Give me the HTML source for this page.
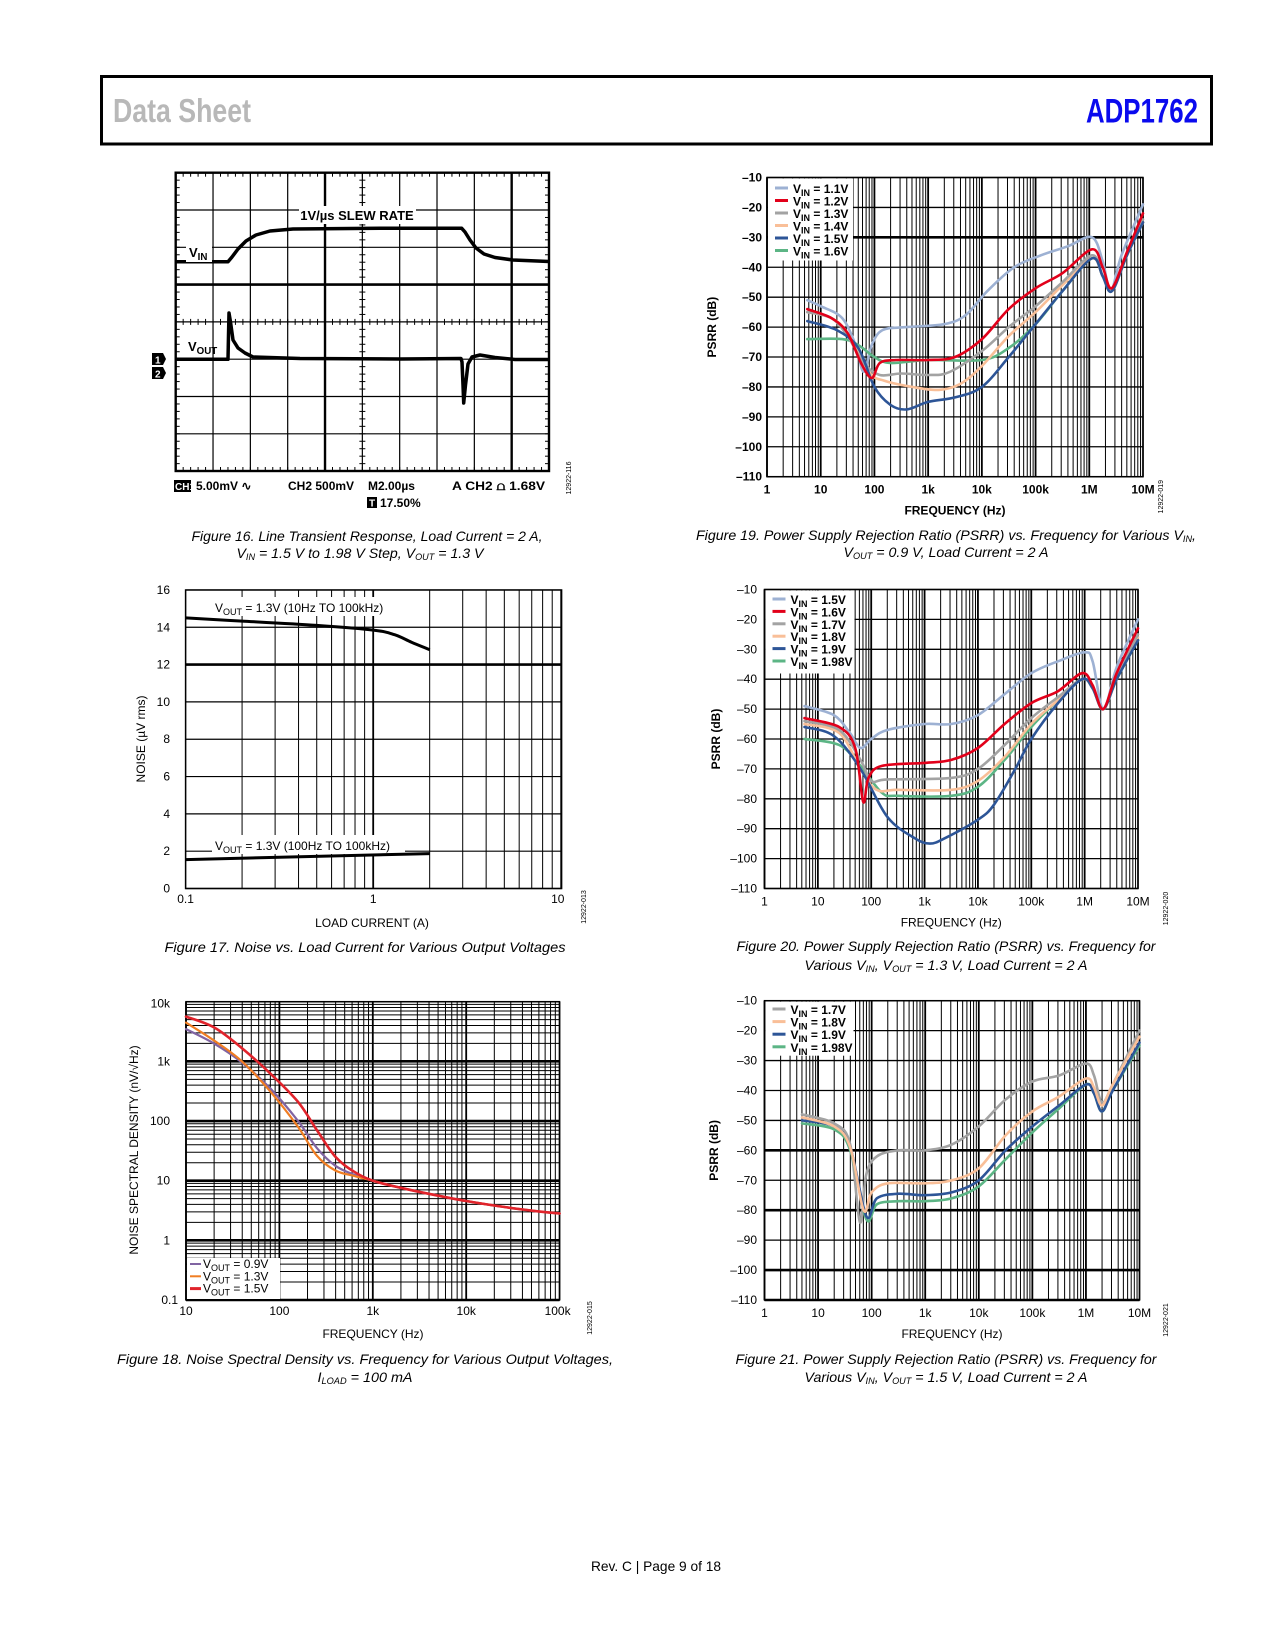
<!DOCTYPE html>
<html><head><meta charset="utf-8"><style>
html,body{margin:0;padding:0;background:#fff;}
svg{display:block;}
text{font-family:"Liberation Sans",sans-serif;}
</style></head><body>
<svg id="s" xmlns="http://www.w3.org/2000/svg" width="1275" height="1650" viewBox="0 0 1275 1650">
<rect x="0" y="0" width="1275" height="1650" fill="#fff"/>
<rect x="101.5" y="76.5" width="1110" height="67.5" fill="none" stroke="#000" stroke-width="3"/>
<text x="113" y="122" font-size="33" font-weight="bold" fill="#b8b8b8" textLength="138" lengthAdjust="spacingAndGlyphs">Data Sheet</text>
<text x="1086" y="122.5" font-size="34" font-weight="bold" fill="#0a0aee" textLength="112" lengthAdjust="spacingAndGlyphs">ADP1762</text>

<g font-style="italic" font-size="14" text-anchor="middle" fill="#000">
<text x="367" y="541" textLength="351" lengthAdjust="spacingAndGlyphs">Figure 16. Line Transient Response, Load Current = 2 A,</text>
<text x="360" y="558" textLength="247" lengthAdjust="spacingAndGlyphs">V<tspan font-size="9" dy="2">IN</tspan><tspan dy="-2"> = 1.5 V to 1.98 V Step, V</tspan><tspan font-size="9" dy="2">OUT</tspan><tspan dy="-2"> = 1.3 V</tspan></text>
<text x="946" y="540" textLength="500" lengthAdjust="spacingAndGlyphs">Figure 19. Power Supply Rejection Ratio (PSRR) vs. Frequency for Various V<tspan font-size="9" dy="2">IN</tspan><tspan dy="-2">,</tspan></text>
<text x="946" y="557" textLength="205" lengthAdjust="spacingAndGlyphs">V<tspan font-size="9" dy="2">OUT</tspan><tspan dy="-2"> = 0.9 V, Load Current = 2 A</tspan></text>
<text x="365" y="952" textLength="401" lengthAdjust="spacingAndGlyphs">Figure 17. Noise vs. Load Current for Various Output Voltages</text>
<text x="946" y="951" textLength="419" lengthAdjust="spacingAndGlyphs">Figure 20. Power Supply Rejection Ratio (PSRR) vs. Frequency for</text>
<text x="946" y="970" textLength="283" lengthAdjust="spacingAndGlyphs">Various V<tspan font-size="9" dy="2">IN</tspan><tspan dy="-2">, V</tspan><tspan font-size="9" dy="2">OUT</tspan><tspan dy="-2"> = 1.3 V, Load Current = 2 A</tspan></text>
<text x="365" y="1364" textLength="496" lengthAdjust="spacingAndGlyphs">Figure 18. Noise Spectral Density vs. Frequency for Various Output Voltages,</text>
<text x="365" y="1382" textLength="95" lengthAdjust="spacingAndGlyphs">I<tspan font-size="9" dy="2">LOAD</tspan><tspan dy="-2"> = 100 mA</tspan></text>
<text x="946" y="1364" textLength="421" lengthAdjust="spacingAndGlyphs">Figure 21. Power Supply Rejection Ratio (PSRR) vs. Frequency for</text>
<text x="946" y="1382" textLength="283" lengthAdjust="spacingAndGlyphs">Various V<tspan font-size="9" dy="2">IN</tspan><tspan dy="-2">, V</tspan><tspan font-size="9" dy="2">OUT</tspan><tspan dy="-2"> = 1.5 V, Load Current = 2 A</tspan></text>
</g>
<text x="656" y="1571" font-size="14" text-anchor="middle" textLength="130" lengthAdjust="spacingAndGlyphs">Rev. C | Page 9 of 18</text>
</svg>
<script>
const NS='http://www.w3.org/2000/svg';const S=document.getElementById('s');
function E(t,a,txt,p){const e=document.createElementNS(NS,t);for(const k in a)e.setAttribute(k,a[k]);if(txt!=null)e.textContent=txt;(p||S).appendChild(e);return e;}
function L(x1,y1,x2,y2,w,c){E('line',{x1,y1,x2,y2,stroke:c||'#000','stroke-width':w||1});}
function T(x,y,s,o){o=o||{};const a={x,y,'font-size':o.fs||12,'text-anchor':o.anchor||'start'};if(o.bold)a['font-weight']='bold';if(o.tr)a.transform=o.tr;if(o.fill)a.fill=o.fill;if(o.tl){a.textLength=o.tl;a.lengthAdjust='spacingAndGlyphs';}return E('text',a,s);}
function TS(x,y,main,sub,rest,o){o=o||{};const a={x,y,'font-size':o.fs||12,'text-anchor':o.anchor||'start'};if(o.bold)a['font-weight']='bold';if(o.tr)a.transform=o.tr;const t=E('text',a);
 E('tspan',{},main,t);E('tspan',{'font-size':(o.fs||12)*0.75,dy:3},sub,t);E('tspan',{dy:-3},rest,t);return t;}
function smooth(p){let d='M'+p[0][0].toFixed(1)+','+p[0][1].toFixed(1);
 for(let i=0;i<p.length-1;i++){const p0=p[i-1]||p[i],p1=p[i],p2=p[i+1],p3=p[i+2]||p2;
 const c1=[p1[0]+(p2[0]-p0[0])/6,p1[1]+(p2[1]-p0[1])/6],c2=[p2[0]-(p3[0]-p1[0])/6,p2[1]-(p3[1]-p1[1])/6];
 d+=' C'+c1.map(v=>v.toFixed(1))+' '+c2.map(v=>v.toFixed(1))+' '+p2.map(v=>v.toFixed(1));}return d;}
function curve(pts,c,w){E('path',{d:smooth(pts),fill:'none',stroke:c,'stroke-width':w||2.5,'stroke-linejoin':'round','stroke-linecap':'round'});}
const lg=Math.log10;

/* ---------- PSRR plots ---------- */
function psrr(o){
 const {x0,x1,y0,y1}=o;const X=lf=>x0+lf*(x1-x0)/7,Y=db=>y0+(-10-db)*(y1-y0)/100;
 for(let db=-10;db>=-110;db-=10)L(x0,Y(db),x1,Y(db),o.thick.includes(db)?2.6:1.3);
 for(let d=0;d<7;d++)for(let m=1;m<=9;m++){const x=X(d+lg(m));L(x,y0,x,y1,m==1?1.8:1);}
 L(X(7),y0,X(7),y1,1.5);
 E('rect',{x:x0,y:y0,width:x1-x0,height:y1-y0,fill:'none',stroke:'#000','stroke-width':1.5});
 E('rect',{x:x0+1,y:y0+1,width:o.lw,height:o.lh,fill:'#fff'});
 o.leg.forEach((l,i)=>{const yy=o.ly0+i*o.ld;L(x0+8,yy,x0+21,yy,3,l[1]);TS(x0+26,yy+5,'V','IN',' = '+l[0],{bold:true,fs:12});});
 o.curves.forEach(c=>curve(c[1].map(p=>[X(p[0]),Y(p[1])]),c[0],2.6));
 const fl=['1','10','100','1k','10k','100k','1M','10M'];
 fl.forEach((s,i)=>T(X(i),y1+17,s,{anchor:'middle',bold:o.bold}));
 for(let db=-10;db>=-110;db-=10)T(o.yl,Y(db)+4,'\u2013'+(-db),{anchor:'end',bold:o.bold});
 T((x0+x1)/2,y1+38,'FREQUENCY (Hz)',{anchor:'middle',bold:o.bold});
 const yc=(y0+y1)/2;T(o.tx,yc,'PSRR (dB)',{anchor:'middle',bold:true,tr:`rotate(-90 ${o.tx} ${yc})`});
 T(o.idx,y1+20,o.id,{anchor:'middle',fs:7,tr:`rotate(-90 ${o.idx} ${y1+20})`});
}
const CB='#9db1d3',CR='#e2001a',CG='#a3a3a3',CP='#f9bf98',CN='#2d5597',CE='#5cb585';
psrr({x0:767,x1:1143,y0:177.5,y1:476.7,thick:[-30],lw:85,lh:82,ly0:188,ld:12.5,yl:762,tx:716,idx:1163,id:'12922-019',bold:true,
 leg:[['1.1V',CB],['1.2V',CR],['1.3V',CG],['1.4V',CP],['1.5V',CN],['1.6V',CE]],
 curves:[
 [CB,[[.75,-51],[1,-53],[1.4,-57],[1.65,-66],[1.8,-75],[1.95,-66],[2.15,-61],[2.6,-60],[3.3,-59],[3.7,-56],[4.1,-48],[4.6,-40],[5.1,-36],[5.6,-33],[6.05,-30],[6.25,-38],[6.4,-48],[6.6,-36],[7,-19]]],
 [CE,[[.75,-64],[1.4,-64],[1.7,-66],[2,-70],[2.3,-72],[3,-71],[4,-71],[4.5,-67],[5,-59],[5.5,-48],[6.05,-37],[6.25,-43],[6.42,-48],[6.7,-36],[7,-25]]],
 [CP,[[.75,-55],[1.2,-57],[1.5,-62],[1.9,-75],[2.2,-78],[2.7,-80],[3.2,-81],[3.6,-79],[4,-73],[4.5,-63],[5,-55],[5.5,-46],[6.05,-37],[6.25,-43],[6.42,-48],[6.7,-36],[7,-25]]],
 [CG,[[.75,-55],[1.2,-57],[1.5,-63],[1.8,-72],[2.1,-76],[2.5,-75.5],[3,-76],[3.4,-75],[4,-68],[4.5,-60],[5,-53],[5.5,-45],[6.05,-36],[6.25,-43],[6.42,-48],[6.7,-36],[7,-24]]],
 [CN,[[.75,-58],[1.3,-61],[1.7,-67],[2,-80],[2.3,-86],[2.6,-87.5],[3,-85],[3.5,-83.5],[4,-80],[4.5,-70],[5,-59],[5.5,-48],[6.05,-37],[6.25,-43],[6.42,-48],[6.7,-36],[7,-25]]],
 [CR,[[.75,-54],[1.2,-57],[1.5,-62],[1.75,-72],[1.95,-77],[2.1,-72],[2.4,-71],[3,-71],[3.5,-70],[4,-64],[4.5,-54],[5,-47],[5.5,-42],[6.05,-34],[6.25,-40],[6.42,-47],[6.7,-35],[7,-22]]]
 ]});
psrr({x0:764.5,x1:1138,y0:589.5,y1:888.5,thick:[],lw:89,lh:83,ly0:599,ld:12.4,yl:757,tx:720,idx:1168,id:'12922-020',
 leg:[['1.5V',CB],['1.6V',CR],['1.7V',CG],['1.8V',CP],['1.9V',CN],['1.98V',CE]],
 curves:[
 [CB,[[.75,-49],[1.3,-52],[1.6,-58],[1.8,-63],[2.0,-60],[2.3,-57],[3,-55],[3.5,-55],[4,-52],[4.5,-45],[5,-38],[5.5,-34],[6,-31],[6.15,-34],[6.35,-50],[6.6,-36],[7,-20]]],
 [CE,[[.75,-60],[1.4,-62],[1.8,-69],[2.2,-78],[2.5,-79],[3.5,-79],[4,-76],[4.5,-67],[5,-56],[5.5,-47],[5.95,-40],[6.15,-43],[6.35,-50],[6.6,-40],[7,-27]]],
 [CP,[[.75,-55],[1.4,-58],[1.8,-70],[2.1,-77],[2.5,-77],[3.5,-77],[4,-74],[4.5,-66],[5,-55],[5.5,-47],[5.95,-40],[6.15,-43],[6.35,-50],[6.6,-40],[7,-26]]],
 [CG,[[.75,-54],[1.4,-57],[1.8,-67],[2,-74],[2.3,-73.5],[3.5,-73],[4,-70],[4.5,-62],[5,-53],[5.5,-46],[5.95,-40],[6.15,-43],[6.35,-50],[6.6,-39],[7,-25]]],
 [CN,[[.75,-56],[1.3,-59],[1.8,-70],[2.3,-86],[2.8,-93],[3.1,-95],[3.4,-93],[4,-87],[4.3,-82],[4.7,-70],[5,-60],[5.5,-48],[5.95,-40],[6.15,-43],[6.35,-50],[6.6,-40],[7,-27]]],
 [CR,[[.75,-53],[1.4,-56],[1.7,-63],[1.85,-81],[1.95,-73],[2.2,-69],[3,-68],[3.5,-67],[4,-63],[4.5,-55],[5,-48],[5.5,-44],[5.95,-38],[6.15,-42],[6.35,-50],[6.6,-38],[7,-23]]]
 ]});
psrr({x0:764.5,x1:1139.5,y0:1000.7,y1:1300,thick:[-60,-80,-100,-110],lw:88,lh:54,ly0:1009,ld:12.6,yl:757,tx:718,idx:1168,id:'12922-021',
 leg:[['1.7V',CG],['1.8V',CP],['1.9V',CN],['1.98V',CE]],
 curves:[
 [CG,[[.7,-48],[1.3,-51],[1.6,-58],[1.78,-84],[1.9,-68],[2.1,-62],[2.5,-60],[3,-60],[3.5,-58],[4,-52],[4.5,-43],[5,-37],[5.5,-35],[6,-31],[6.15,-35],[6.3,-44],[6.5,-38],[7,-20]]],
 [CE,[[.7,-51],[1.3,-53],[1.6,-60],[1.9,-83],[2.1,-78],[2.5,-77],[3,-77],[3.5,-76],[4,-72],[4.5,-63],[5,-54],[5.5,-46],[6,-38],[6.15,-41],[6.3,-47],[6.5,-40],[7,-25]]],
 [CN,[[.7,-50],[1.3,-52],[1.6,-59],[1.9,-82],[2.1,-76],[2.5,-74.5],[3,-75],[3.5,-74],[4,-70],[4.5,-60],[5,-52],[5.5,-45],[6,-38],[6.15,-41],[6.3,-47],[6.5,-40],[7,-24]]],
 [CP,[[.7,-49],[1.3,-52],[1.6,-59],[1.85,-80],[2,-74],[2.3,-71],[3,-71],[3.5,-70],[4,-66],[4.5,-55],[5,-47],[5.5,-42],[6,-36],[6.15,-39],[6.3,-45],[6.5,-38],[7,-22]]]
 ]});

/* ---------- Fig 17 ---------- */
(function(){const X=v=>185.6+lg(v/0.1)*187.6,Y=n=>888.5-n*18.66;
 for(let n=0;n<=16;n+=2)L(185.6,Y(n),561.6,Y(n),n==12?2.6:1.2);
 for(let v=0.1;v<=1.0001;v+=0.1)L(X(v),590,X(v),888.5,Math.abs(v-1)<.01?1.8:1);
 for(let v=2;v<=10;v++)L(X(v),590,X(v),888.5,1);
 E('rect',{x:185.6,y:590,width:376,height:298.5,fill:'none',stroke:'#000','stroke-width':1.5});
 E('rect',{x:212,y:597,width:186,height:19,fill:'#fff'});E('rect',{x:212,y:835,width:193,height:19,fill:'#fff'});
 TS(215,612,'V','OUT',' = 1.3V (10Hz TO 100kHz)',{fs:12});TS(215,850,'V','OUT',' = 1.3V (100Hz TO 100kHz)',{fs:12});
 E('path',{d:smooth([[0.1,14.5],[0.2,14.33],[0.5,14.1],[1,13.85],[1.3,13.6],[1.6,13.2],[2,12.8]].map(p=>[X(p[0]),Y(p[1])])),fill:'none',stroke:'#000','stroke-width':3});
 L(X(0.1),Y(1.55),X(2),Y(1.87),3);
 for(let n=0;n<=16;n+=2)T(170,Y(n)+4,''+n,{anchor:'end'});
 T(X(0.1),903,'0.1',{anchor:'middle'});T(X(1),903,'1',{anchor:'middle'});T(X(10)-3,903,'10',{anchor:'middle'});
 T(372,927,'LOAD CURRENT (A)',{anchor:'middle'});
 T(145,739,'NOISE (\u00b5V rms)',{anchor:'middle',tr:'rotate(-90 145 739)'});
 T(586,907,'12922-013',{anchor:'middle',fs:7,tr:'rotate(-90 586 907)'});
})();

/* ---------- Fig 18 ---------- */
(function(){const X=lf=>186+(lf-1)*93.4,Y=ld=>1300-(ld+1)*59.66;
 for(let d=-1;d<4;d++)for(let m=1;m<=9;m++){const y=Y(d+lg(m));L(186,y,559.5,y,m==1?2.6:1);}
 L(186,Y(4),559.5,Y(4),1.5);
 for(let d=1;d<5;d++)for(let m=1;m<=9;m++){const x=X(d+lg(m));L(x,1001.7,x,1300,m==1?1.8:1);}
 L(X(5),1001.7,X(5),1300,1.5);
 E('rect',{x:186,y:1001.7,width:373.5,height:298.3,fill:'none',stroke:'#000','stroke-width':1.5});
 E('rect',{x:187,y:1258,width:93,height:41,fill:'#fff'});
 const leg=[['0.9V','#8064a2'],['1.3V','#f07d22'],['1.5V','#e0232b']];
 leg.forEach((l,i)=>{const yy=1264+i*12.3;L(190,yy,201,yy,i==2?3:2,l[1]);TS(203,yy+4,'V','OUT',' = '+l[0],{fs:12});});
 const tail=[[3,1.0],[3.3,0.88],[3.6,0.78],[4,0.66],[4.4,0.56],[4.8,0.48],[5,0.45]];
 curve([[1,3.54],[1.3,3.3],[1.6,2.98],[1.9,2.55],[2.2,2.0],[2.4,1.55],[2.6,1.25],[2.8,1.1]].concat(tail).map(p=>[X(p[0]),Y(p[1])]),'#8064a2',2.2);
 curve([[1,3.65],[1.3,3.35],[1.6,3.0],[1.9,2.5],[2.2,1.9],[2.4,1.42],[2.6,1.17],[2.8,1.08]].concat(tail).map(p=>[X(p[0]),Y(p[1])]),'#f07d22',2.2);
 curve([[1,3.75],[1.3,3.57],[1.6,3.22],[1.9,2.8],[2.2,2.32],[2.4,1.85],[2.6,1.4],[2.8,1.15]].concat(tail).map(p=>[X(p[0]),Y(p[1])]),'#e0232b',2.6);
 ['0.1','1','10','100','1k','10k'].forEach((s,i)=>T(i==0?178:170,Y(i-1)+(i==5?6:4),s,{anchor:'end',bold:false}));
 ['10','100','1k','10k','100k'].forEach((s,i)=>T(X(i+1)+(i==4?-2:0),1315,s,{anchor:'middle'}));
 T(373,1338,'FREQUENCY (Hz)',{anchor:'middle'});
 T(138,1150,'NOISE SPECTRAL DENSITY (nV/\u221aHz)',{anchor:'middle',tr:'rotate(-90 138 1150)'});
 T(592,1318,'12922-015',{anchor:'middle',fs:7,tr:'rotate(-90 592 1318)'});
})();

/* ---------- Fig 16 scope ---------- */
(function(){const x0=175.7,y0=172.7,dx=37.33,dy=37.3,x1=549,y1=471;
 for(let i=1;i<10;i++)L(x0+i*dx,y0,x0+i*dx,y1,(i==4||i==9)?2.4:1.2);
 for(let j=1;j<8;j++)L(x0,y0+j*dy,x1,y0+j*dy,j==3?2.6:1.2);
 const cx=x0+5*dx,cy=y0+4*dy;
 for(let k=0;k<=50;k++){const x=x0+k*dx/5;L(x,y0,x,y0+4,1);L(x,y1,x,y1-4,1);L(x,cy-3,x,cy+3,1);}
 for(let k=0;k<=40;k++){const y=y0+k*dy/5;L(x0,y,x0+4,y,1);L(x1,y,x1-4,y,1);L(cx-3,y,cx+3,y,1);}
 E('rect',{x:x0,y:y0,width:x1-x0,height:y1-y0,fill:'none',stroke:'#000','stroke-width':2.4});
 E('rect',{x:299,y:206,width:117,height:18,fill:'#fff'});
 T(357,220,'1V/\u00b5s SLEW RATE',{anchor:'middle',bold:true,fs:13});
 E('polyline',{points:'175.7,261.7 228,261.7 232,257 238,249 246,241 256,235 270,231 293,229 380,228.3 461.7,228.3 465,232 470,240 476,248 484,254 495,257.5 513,260 549,261.5',fill:'none',stroke:'#000','stroke-width':3.5,'stroke-linejoin':'round'});
 E('polyline',{points:'175.7,359.3 228,359.3 228.5,335 229,313 230.5,322 233,340 238,348 245,353 253,357 300,358.5 400,359 461,358.5 462,362 463,385 463.7,403 465.5,385 468,364 472,357 480,355 495,357.5 515,359.5 549,359.5',fill:'none',stroke:'#000','stroke-width':3.5,'stroke-linejoin':'round'});
 E('rect',{x:186,y:242,width:26,height:20,fill:'#fff'});TS(189,257,'V','IN','',{bold:true,fs:13});
 TS(188,351,'V','OUT','',{bold:true,fs:13});
 E('path',{d:'M152,353 h11 l3,6 l-3,6 h-11z',fill:'#000'});T(155,363.5,'1',{fill:'#fff',bold:true,fs:10});
 E('path',{d:'M152,367 h11 l3,6 l-3,6 h-11z',fill:'#000'});T(155,377.5,'2',{fill:'#fff',bold:true,fs:10});
 E('rect',{x:174,y:480,width:17,height:12,fill:'#000'});T(175,490,'CH1',{fill:'#fff',bold:true,fs:10});
 T(196,490,'5.00mV \u223f',{bold:true});T(288,490,'CH2 500mV',{bold:true});T(368,490,'M2.00\u00b5s',{bold:true});
 T(452,490,'A  CH2 \u2a4d 1.68V',{bold:true,tl:93});
 E('rect',{x:367,y:497,width:10,height:11,fill:'#000'});T(369,506.5,'T',{fill:'#fff',bold:true,fs:10});T(380,507,'17.50%',{bold:true});
 T(571,478,'12922-116',{anchor:'middle',fs:7,tr:'rotate(-90 571 478)'});
})();
</script>
</body></html>
